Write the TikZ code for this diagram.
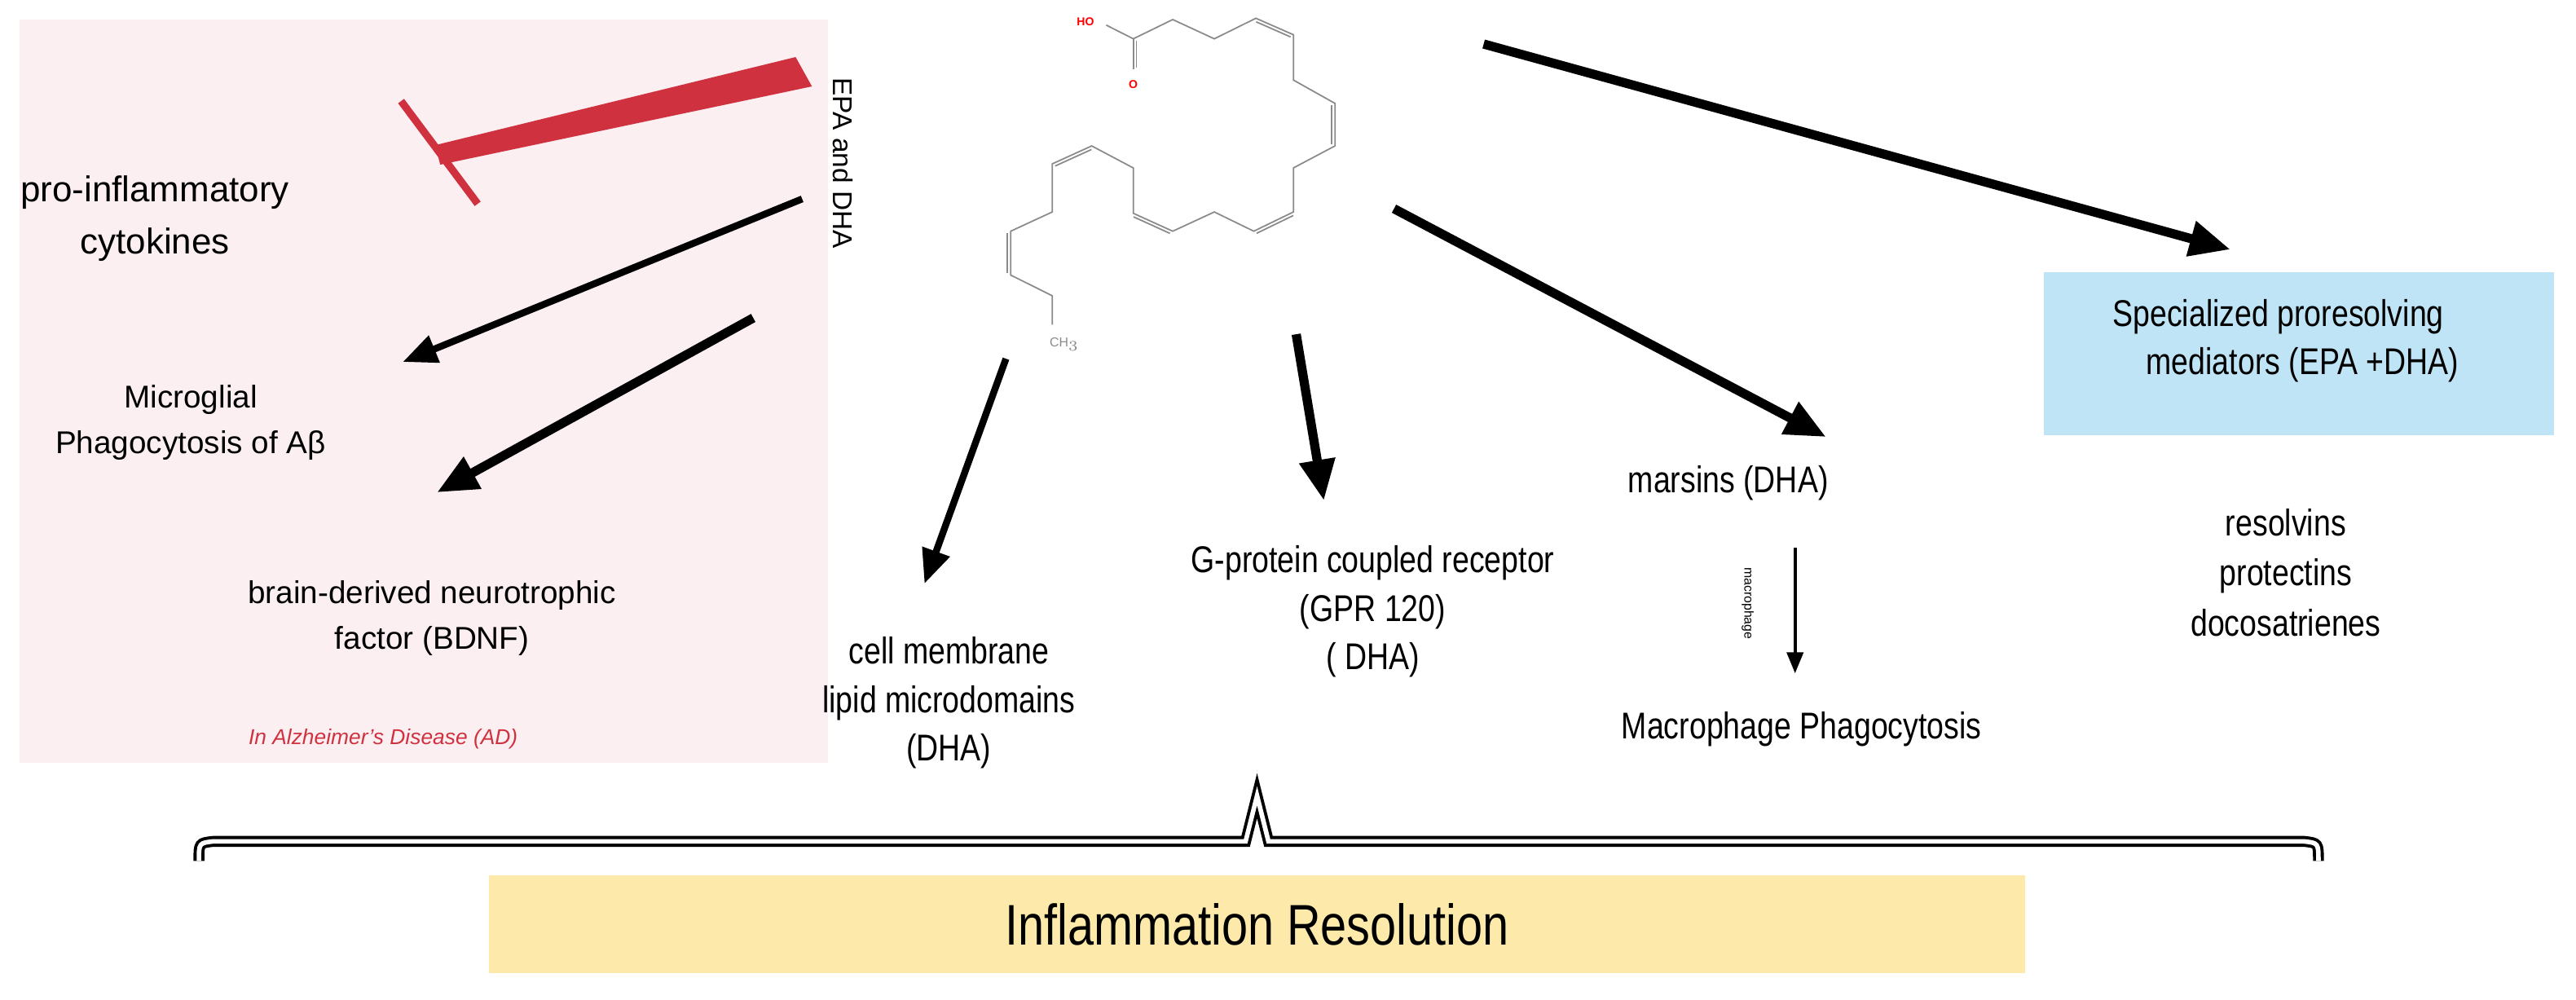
\documentclass[tikz,border=0pt]{standalone}
\usepackage{fontspec}
\setmainfont{Liberation Sans}
\newfontfamily\narrowfont{Liberation Sans}[FakeStretch=0.82]
\usetikzlibrary{arrows.meta, calc, positioning}

\definecolor{adpink}{HTML}{FCEFF2}
\definecolor{adred}{HTML}{D0313F}
\definecolor{spmblue}{HTML}{BEE4F5}
\definecolor{resyellow}{HTML}{FDE9A9}
\definecolor{bondgray}{HTML}{8A8A8A}

\tikzset{
  txt/.style={align=center, inner sep=1pt, font=\fontsize{11}{14}\selectfont},
  ntxt/.style={align=center, inner sep=1pt, font=\narrowfont\fontsize{13}{17}\selectfont},
  bigarrow/.style={line width=3.2pt, -{Triangle[length=5mm,width=4.2mm]}},
  midarrow/.style={line width=2.4pt, -{Triangle[length=4.2mm,width=3.4mm]}},
  thinarrow/.style={line width=1.2pt, -{Triangle[length=2.6mm,width=2mm]}},
  bond/.style={bondgray, line width=0.5pt},
  atom/.style={inner sep=0pt, font=\fontsize{4}{4}\selectfont\bfseries}
}

\begin{document}
\begin{tikzpicture}[x=0.2mm, y=-0.2mm]
\useasboundingbox (0,0) rectangle (1580,613);

% Alzheimer panel
\fill[adpink] (12,12) rectangle (508,468);
\node[txt, font=\fontsize{7.5}{9}\selectfont\itshape, text=adred] (ad) at (235,453) {In Alzheimer's Disease (AD)};

\node[txt, font=\fontsize{9.5}{11}\selectfont, rotate=-90] (epa) at (517,100) {EPA and DHA};
\node[txt, font=\fontsize{12.5}{18}\selectfont] (cyto) at (95,134) {pro-inflammatory\\cytokines};
\node[txt, font=\fontsize{11}{16}\selectfont] (micro) at (117,259) {Microglial\\Phagocytosis of Aβ};
\node[txt, font=\fontsize{11}{16}\selectfont] (bdnf) at (265,379) {brain-derived neurotrophic\\factor (BDNF)};

% inhibition bar
\coordinate (inhA) at (494,44);
\coordinate (inhB) at (268,95);
\fill[adred] (488,35) -- (498,53) -- (270,101) -- (267,89) -- cycle;
\draw[adred, line width=2.6pt] (246,62) -- (293,125);

\coordinate (epa1) at (492,122);
\coordinate (mic1) at (247,222);
\coordinate (epa2) at (462,195);
\coordinate (bdn1) at (268,302);
\draw[midarrow] (epa1) -- (mic1);
\draw[bigarrow] (epa2) -- (bdn1);

% DHA molecule
\foreach \n/\x/\y in {h/678.5/15.4, c1/695.1/23.8, o/695.1/42.4, c2/719.3/12.0,
  c3/744.8/23.8, c4/770.3/11.2, c5/793.3/21.3, c6/793.3/49.1, c7/818.8/63.4,
  c8/818.8/89.5, c9/793.3/103.0, c10/793.3/130.0, c11/769.0/141.8,
  c12/744.8/130.0, c13/719.3/141.8, c14/695.1/130.8, c15/695.1/103.0,
  c16/669.6/89.5, c17/645.4/100.5, c18/645.4/130.0, c19/619.9/141.8,
  c20/619.9/168.7, c21/645.4/181.4, c22/645.4/199.1}
  \coordinate (\n) at (\x,\y);
\draw[bond] (h) -- (c1) -- (c2) -- (c3) -- (c4) -- (c5) -- (c6) -- (c7) -- (c8)
  -- (c9) -- (c10) -- (c11) -- (c12) -- (c13) -- (c14) -- (c15) -- (c16)
  -- (c17) -- (c18) -- (c19) -- (c20) -- (c21) -- (c22);
\draw[bond] (c1) -- (o);
\foreach \a/\b/\s in {c1/o/90, c4/c5/-90, c7/c8/-90, c10/c11/90, c13/c14/90, c16/c17/90, c19/c20/-90}
  \draw[bond, shorten <=0.6pt, shorten >=0.6pt] ($(\a)!1.1pt!\s:(\b)$) -- ($(\b)!1.1pt!-\s:(\a)$);
\node[atom, text=red] (ho) at (665.8,13.2) {HO};
\node[atom, text=red] (otx) at (695.1,51.6) {O};
\node[atom, text=bondgray, font=\fontsize{4.5}{5}\selectfont] (ch3) at (653,211) {CH$_3$};

% outcomes
\node[ntxt] (cell) at (582,431) {cell membrane\\lipid microdomains\\(DHA)};
\node[ntxt] (gpr) at (842,375) {G-protein coupled receptor\\(GPR 120)\\( DHA)};
\node[ntxt] (mars) at (1060,296) {marsins (DHA)};
\node[ntxt] (mphag) at (1105,447) {Macrophage Phagocytosis};
\node[fill=spmblue, minimum width=313*0.2mm, minimum height=100*0.2mm] (spmbox) at (1410,217) {};
\node[ntxt, align=left] (spm) at (1402,209) {Specialized proresolving\\\hspace*{0.9em}mediators (EPA +DHA)};
\node[ntxt, font=\narrowfont\fontsize{13}{17.5}\selectfont] (sub) at (1402,351) {resolvins\\protectins\\docosatrienes};
\node[txt, font=\fontsize{4.5}{5}\selectfont, rotate=-90] (mlab) at (1072,370) {macrophage};

\coordinate (m1) at (617,220);
\coordinate (m2) at (567,358);
\coordinate (g1) at (795,205);
\coordinate (g2) at (812,307);
\coordinate (s1) at (855,128);
\coordinate (s2) at (1120,268);
\coordinate (r1) at (910,27);
\coordinate (r2) at (1368,153);
\coordinate (k1) at (1101,336);
\coordinate (k2) at (1101,413);
\draw[midarrow] (m1) -- (m2);
\draw[bigarrow] (g1) -- (g2);
\draw[bigarrow] (s1) -- (s2);
\draw[bigarrow] (r1) -- (r2);
\draw[thinarrow] (k1) -- (k2);

% brace and result
\coordinate (brL) at (122,528);
\coordinate (brR) at (1422,528);
\coordinate (brTip) at (771,488);
\draw[line width=1.1pt, double=white, double distance=1.6pt, line join=miter]
  (brL) .. controls (122,517) .. (131,516) -- (764,516) -- (brTip) -- (778,516)
  -- (1413,516) .. controls (1422,517) .. (brR);
\node[fill=resyellow, minimum width=942*0.2mm, minimum height=60*0.2mm,
  font=\narrowfont\fontsize{20}{22}\selectfont] (res) at (771,567) {Inflammation Resolution};
\end{tikzpicture}
\end{document}
